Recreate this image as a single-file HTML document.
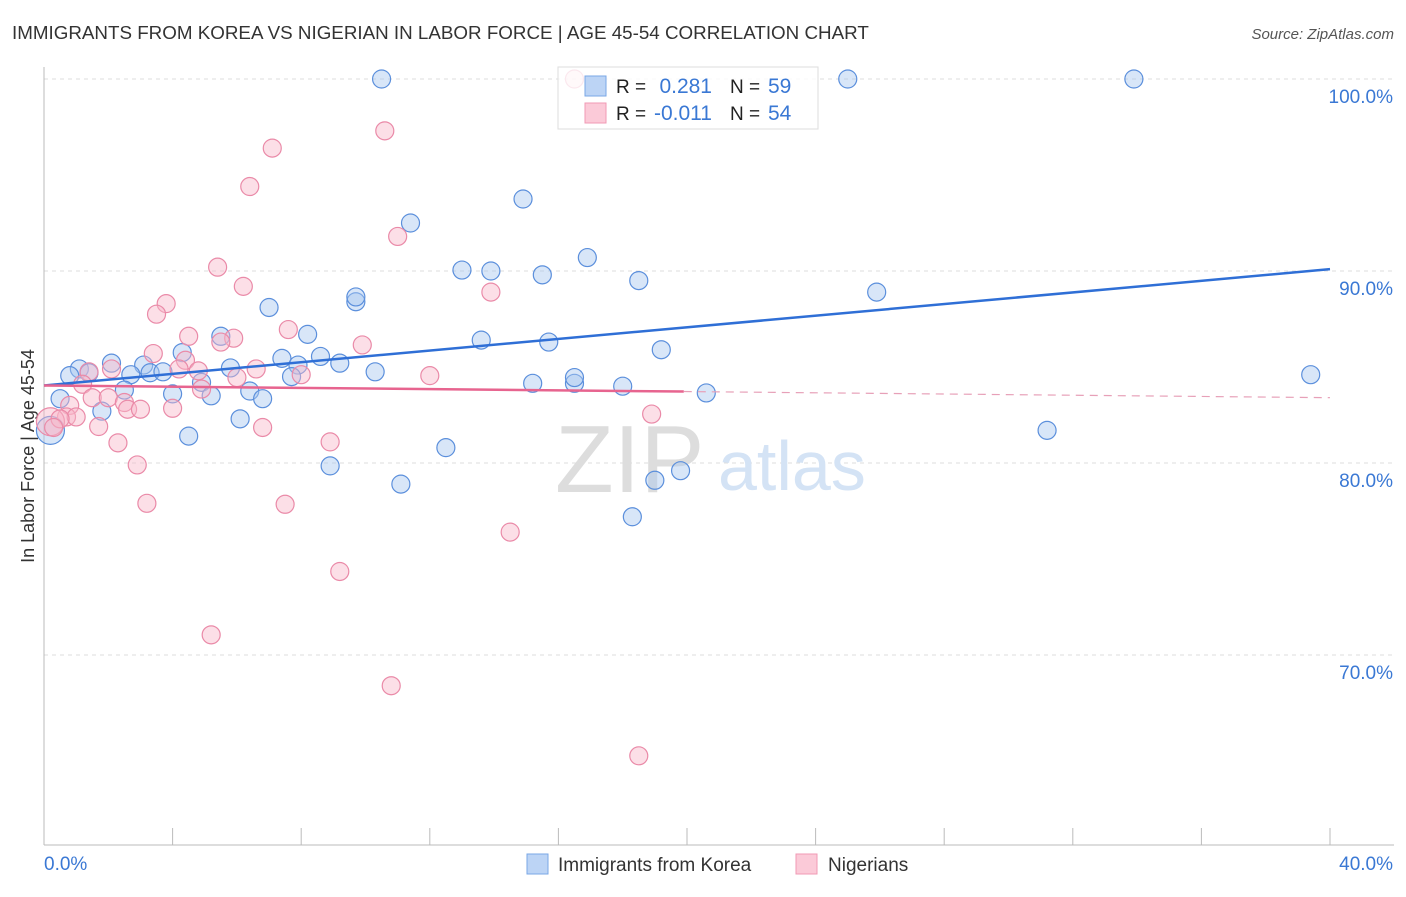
<!DOCTYPE html>
<html><head><meta charset="utf-8"><style>
body{margin:0;background:#fff;font-family:"Liberation Sans",sans-serif}
svg text{font-family:"Liberation Sans",sans-serif}
</style></head><body>
<svg id="chart" width="1406" height="892">
<text x="12" y="39" font-size="18.8" fill="#333">IMMIGRANTS FROM KOREA VS NIGERIAN IN LABOR FORCE | AGE 45-54 CORRELATION CHART</text>
<text x="1394" y="39" font-size="15" fill="#555" font-style="italic" text-anchor="end">Source: ZipAtlas.com</text>
<text x="34" y="456" font-size="18" fill="#333" text-anchor="middle" transform="rotate(-90 34 456)">In Labor Force | Age 45-54</text>
<g id="grid"></g>
<text x="555" y="492" font-size="96" fill="#ddd" font-family="Liberation Serif">ZIP</text>
<text x="718" y="490" font-size="70" fill="#d4e3f5">atlas</text>
<g id="marks"></g>
<g>
<rect x="558" y="67" width="260" height="62" fill="#fff" fill-opacity="0.8" stroke="#ddd"/>
<rect x="585" y="76" width="21" height="20" fill="#bcd4f5" stroke="#7aa7e6"/>
<rect x="585" y="103" width="21" height="20" fill="#fbcad8" stroke="#f09ab4"/>
<text x="616" y="93" font-size="19" fill="#222">R = </text><text x="712" y="93" font-size="21" fill="#3a78d4" text-anchor="end">0.281</text>
<text x="730" y="93" font-size="19" fill="#222">N = </text><text x="768" y="93" font-size="21" fill="#3a78d4">59</text>
<text x="616" y="120" font-size="19" fill="#222">R = </text><text x="712" y="120" font-size="21" fill="#3a78d4" text-anchor="end">-0.011</text>
<text x="730" y="120" font-size="19" fill="#222">N = </text><text x="768" y="120" font-size="21" fill="#3a78d4">54</text>
</g>
<g>
<rect x="527" y="854" width="21" height="20" fill="#bcd4f5" stroke="#7aa7e6"/>
<text x="558" y="871" font-size="19" fill="#333">Immigrants from Korea</text>
<rect x="796" y="854" width="21" height="20" fill="#fbcad8" stroke="#f09ab4"/>
<text x="828" y="871" font-size="19" fill="#333">Nigerians</text>
</g>
</svg>
<script>
const xTicks=[0,40];
const yTicks=[100,90,80,70];
const koreaX=[10.5,25,33.9,14.9,11.4,16.9,13,18.5,13.9,15.5,25.9,7,9.7,9.7,8.2,5.5,13.6,15.7,4.3,19.2,2.1,3.1,7.4,8.6,7.9,9.2,5.8,1.1,1.4,0.8,2.7,3.3,3.7,10.3,7.7,4.9,15.2,16.5,16.5,18,2.5,4,6.4,5.2,6.8,20.6,0.5,1.8,6.1,39.4,31.2,4.5,12.5,8.9,11.1,19.8,19,18.3,0.2];
const koreaY=[100,100,100,93.75,92.5,90.7,90.05,89.5,90,89.8,88.9,88.1,88.4,88.65,86.7,86.6,86.4,86.3,85.75,85.9,85.2,85.1,85.45,85.55,85.1,85.2,84.95,84.9,84.7,84.55,84.6,84.7,84.75,84.75,84.5,84.2,84.15,84.15,84.45,84,83.8,83.6,83.75,83.5,83.35,83.65,83.35,82.7,82.3,84.6,81.7,81.4,80.8,79.85,78.9,79.6,79.1,77.2,81.7];
const nigX=[16.5,10.6,7.1,6.4,11,5.4,6.2,13.9,3.8,3.5,7.6,4.5,5.9,5.5,9.9,3.4,4.4,2.1,4.2,4.8,6.6,1.4,8,6,1.2,12,4.9,1.5,2,2.5,0.8,2.6,3,4,0.7,1,1.7,6.8,18.9,2.3,8.9,0.2,0.5,2.9,3.2,7.5,14.5,9.2,5.2,10.8,18.5,0.3];
const nigY=[100,97.3,96.4,94.4,91.8,90.2,89.2,88.9,88.3,87.75,86.95,86.6,86.5,86.3,86.15,85.7,85.35,84.9,84.9,84.8,84.9,84.75,84.6,84.45,84.1,84.55,83.85,83.4,83.4,83.15,83,82.8,82.8,82.85,82.4,82.4,81.9,81.85,82.55,81.05,81.1,82.15,82.3,79.9,77.9,77.85,76.4,74.35,71.05,68.4,64.75,81.85];
const X0=44,X1=1330,Y0=79,PX=19.2;
const sx=v=>X0+(X1-X0)*v/40, sy=v=>Y0+(100-v)*PX;
const NS="http://www.w3.org/2000/svg";
function mk(t,a,p){const e=document.createElementNS(NS,t);for(const k in a)e.setAttribute(k,a[k]);p.appendChild(e);return e;}
const grid=document.getElementById('grid'),marks=document.getElementById('marks');
yTicks.forEach(v=>{
 const l=mk('line',{x1:44,x2:1394,y1:sy(v),y2:sy(v),stroke:'#ddd','stroke-dasharray':'4,4'},grid);
 
 
 const t=mk('text',{x:1393,y:sy(v)+24,'font-size':19,fill:'#3a78d4','text-anchor':'end'},grid);t.textContent=v.toFixed(1)+'%';
 
 
});
mk('line',{x1:44,x2:44,y1:67,y2:845,stroke:'#bbb'},grid);
mk('line',{x1:44,x2:1394,y1:845,y2:845,stroke:'#bbb'},grid);
for(let i=0;i<=10;i++){mk('line',{x1:sx(i*4),x2:sx(i*4),y1:828,y2:845,stroke:'#bbb'},grid);}
xTicks.forEach((v,i)=>{const t=mk('text',{x:i?1393:44,y:870,'font-size':19,fill:'#3a78d4','text-anchor':i?'end':'start'},grid);t.textContent=v.toFixed(1)+'%';
 
 });
function dots(xs,ys,fill,stroke,name){xs.forEach((x,i)=>{const big=(x<0.3);const c=mk('circle',{cx:sx(x),cy:sy(ys[i]),r:big?14:9,fill:fill,'fill-opacity':0.45,stroke:stroke,'stroke-width':1.2},marks);
 
 });}
dots(koreaX,koreaY,'#a9c7f0','#5b8fdc','korea-point');
dots(nigX,nigY,'#f8b7ca','#ea8aa8','nigerian-point');
function reg(xs,ys){const n=xs.length,mx=xs.reduce((a,b)=>a+b)/n,my=ys.reduce((a,b)=>a+b)/n;let sxy=0,sxx=0;xs.forEach((x,i)=>{sxy+=(x-mx)*(ys[i]-my);sxx+=(x-mx)**2});const b=sxy/sxx;return [my-b*mx,b];}
const [ka,kb]=reg(koreaX,koreaY);
const kl=mk('line',{x1:sx(0),y1:sy(ka),x2:sx(40),y2:sy(ka+kb*40),stroke:'#2f6fd6','stroke-width':2.5},marks);


const [na,nb]=reg(nigX,nigY);
const xm=Math.max(...nigX);
const nl=mk('line',{x1:sx(0),y1:sy(na),x2:sx(xm+1),y2:sy(na+nb*(xm+1)),stroke:'#e7648f','stroke-width':2.5},marks);


const nd=mk('line',{x1:sx(xm+1),y1:sy(na+nb*(xm+1)),x2:sx(40),y2:sy(na+nb*40),stroke:'#e7a0b8','stroke-width':1.2,'stroke-dasharray':'8,6'},marks);


</script>
</body></html>
